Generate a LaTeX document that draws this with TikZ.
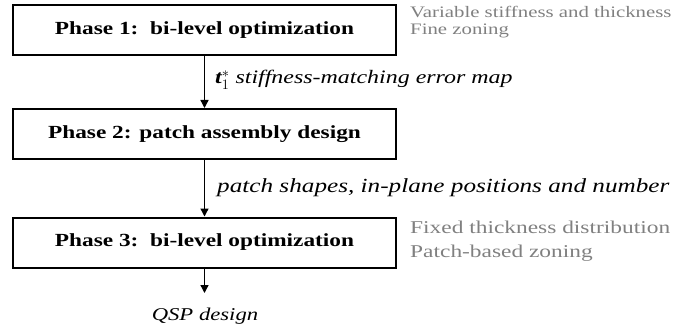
\documentclass[tikz,border=0pt]{standalone}
\usepackage{amsmath}
\usepackage{fontspec}
\setmainfont{Liberation Serif}
\newfontfamily\boxfont[FakeStretch=1.26]{Liberation Serif}
\newfontfamily\labfont[FakeStretch=1.26]{Liberation Serif}
\newfontfamily\notefont[FakeStretch=1.3]{Liberation Serif}
\usetikzlibrary{arrows.meta}
\definecolor{greytext}{RGB}{128,128,128}
\tikzset{
  phasebox/.style={draw, line width=2pt, minimum width=383pt, minimum height=50pt,
    inner sep=0pt, font=\boxfont\fontsize{18.5}{20}\selectfont\bfseries},
  flow/.style={line width=1.3pt, -{Triangle[width=8pt,length=8pt]}},
  flowlabel/.style={anchor=west, inner sep=0pt, font=\labfont\fontsize{19.5}{20}\selectfont\itshape},
  note/.style={anchor=west, inner sep=0pt, text=greytext, align=left},
  notesmall/.style={note, font=\notefont\fontsize{16}{17}\selectfont},
  notelarge/.style={note, font=\notefont\fontsize{18}{24}\selectfont}
}
\begin{document}
\begin{tikzpicture}[x=1pt,y=1pt]
\useasboundingbox (0,0) rectangle (679,-334);
\node[phasebox] (p1) at (204.5,-30.5) {Phase 1:\ \ bi-level optimization};
\node[phasebox] (p2) at (204.5,-134) {Phase 2: patch assembly design};
\node[phasebox] (p3) at (204.5,-242.5) {Phase 3:\ \ bi-level optimization};
\node[inner sep=0pt, font=\labfont\fontsize{18}{20}\selectfont\itshape] (qsp) at (205,-316) {QSP design};
\coordinate (qtop) at (204.5,-293);
\draw[flow] (p1.south) -- (p2.north);
\draw[flow] (p2.south) -- (p3.north);
\draw[flow] (p3.south) -- (qtop);
\node[flowlabel, font=\labfont\fontsize{19}{20}\selectfont\itshape] (l1) at (215,-80) {{\bfseries t}$_1^*$ stiffness-matching error map};
\node[flowlabel, font=\labfont\fontsize{20}{20}\selectfont\itshape] (l2) at (217,-188) {patch shapes, in-plane positions and number};
\node[notesmall] (n1) at (410,-22.5) {Variable stiffness and thickness\\Fine zoning};
\node[notelarge] (n2) at (410,-241) {Fixed thickness distribution\\Patch-based zoning};
\end{tikzpicture}
\end{document}
